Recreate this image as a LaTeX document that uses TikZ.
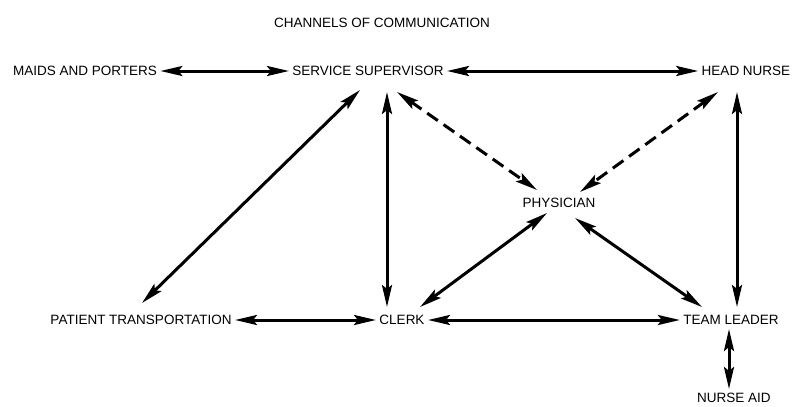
\documentclass[tikz,border=0pt]{standalone}
\usepackage{fontspec}
\setmainfont{Liberation Sans}
\usepackage{tikz}
\usetikzlibrary{arrows.meta}

\begin{document}
\begin{tikzpicture}[<->,>={Stealth[length=22pt,width=10pt,inset=4pt]},
                    line width=3pt,
                    link/.style={draw=black},
                    maybe/.style={draw=black,dash pattern=on 13pt off 7pt}]
  \tikzstyle{every node}=[font=\fontsize{13.5}{15}\selectfont,inner sep=2pt,text=black]
  \useasboundingbox (0,0) rectangle (796pt,-407pt);

  \node         (sup)   at (368pt,-71pt)                          {SERVICE SUPERVISOR};
  \node         (maids) [left of=sup, node distance=283pt]        {MAIDS AND PORTERS};
  \node         (head)  [right of=sup, node distance=378pt]       {HEAD NURSE};
  \node         (title) [above of=sup, node distance=48pt, xshift=14pt] {CHANNELS OF COMMUNICATION};
  \node         (phys)  [below of=sup, node distance=132pt, xshift=191pt] {PHYSICIAN};
  \node         (clerk) [below of=sup, node distance=249pt, xshift=34pt] {CLERK};
  \node         (pat)   [left of=clerk, node distance=261pt]      {PATIENT TRANSPORTATION};
  \node         (team)  [right of=clerk, node distance=329pt]     {TEAM LEADER};
  \node         (aid)   [below of=team, node distance=78pt, xshift=3pt] {NURSE AID};

  \path (maids.east) edge[link] (sup.west)
        (sup.east) edge[link] (head.west)
        ([shift={(19pt,-21pt)}]sup.center) edge[link] ([shift={(-15pt,13pt)}]clerk.center)
        ([shift={(-8pt,-19pt)}]sup.center) edge[link] ([shift={(1pt,17pt)}]pat.center)
        ([shift={(29pt,-21pt)}]sup.center) edge[maybe] ([shift={(-22pt,13pt)}]phys.center)
        ([shift={(-28pt,-21pt)}]head.center) edge[maybe] ([shift={(21pt,11pt)}]phys.center)
        ([shift={(-9pt,-21pt)}]head.center) edge[link] ([shift={(6pt,13pt)}]team.center)
        ([shift={(-12pt,-10pt)}]phys.center) edge[link] ([shift={(18pt,13pt)}]clerk.center)
        ([shift={(16pt,-15pt)}]phys.center) edge[link] ([shift={(-29pt,13pt)}]team.center)
        (pat.east) edge[link] (clerk.west)
        (clerk.east) edge[link] (team.west)
        ([shift={(-2pt,-9pt)}]team.center) edge[link] ([shift={(-5pt,9pt)}]aid.center);

\end{tikzpicture}
\end{document}
